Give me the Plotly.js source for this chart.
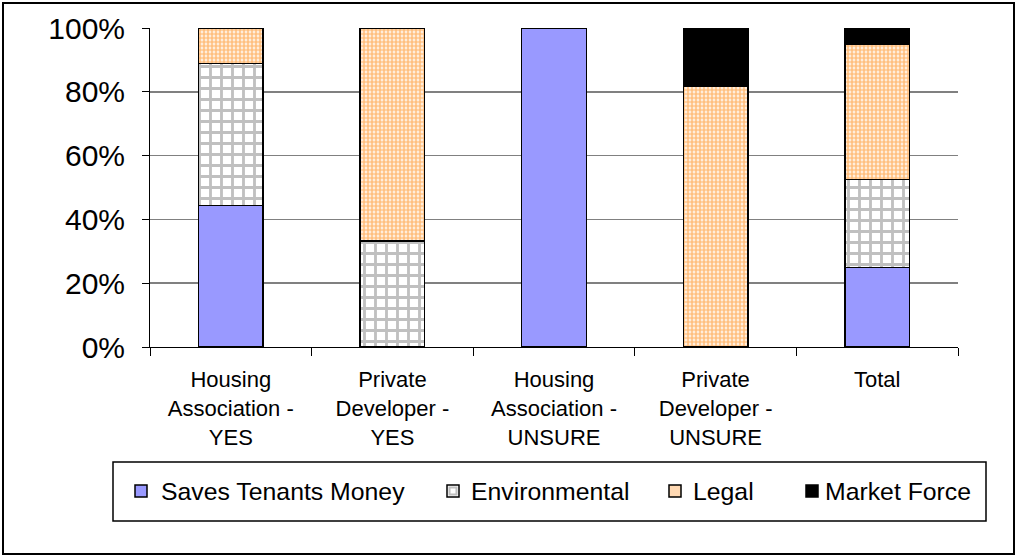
<!DOCTYPE html>
<html>
<head>
<meta charset="utf-8">
<script src="https://cdn.plot.ly/plotly-3.0.1.min.js"></script>
<style>
  html, body { margin: 0; padding: 0; background: #fff; }
  #chart { position: absolute; left: 0; top: 0; width: 1016px; height: 558px; }
  #frame { position: absolute; left: 2px; top: 2px; width: 1009px; height: 549px; border: 2px solid #000; pointer-events: none; }
</style>
</head>
<body>
<div id="chart"></div>
<div id="frame"></div>
<script>
const categories = [
  "Housing Association - YES",
  "Private Developer - YES",
  "Housing Association - UNSURE",
  "Private Developer - UNSURE",
  "Total"
];
const tickLabels = [
  "Housing<br>Association -<br>YES",
  "Private<br>Developer -<br>YES",
  "Housing<br>Association -<br>UNSURE",
  "Private<br>Developer -<br>UNSURE",
  "Total"
];
const seriesNames = ["Saves Tenants Money", "Environmental", "Legal", "Market Force"];
const savesTenantsMoney = [44.4, 0, 100, 0, 25.0];
const environmental     = [44.4, 33.3, 0, 0, 27.5];
const legal             = [11.2, 66.7, 0, 81.8, 42.5];
const marketForce       = [0, 0, 0, 18.2, 5.0];
const yTicks = [0, 20, 40, 60, 80, 100];
const yTickLabels = ["0%", "20%", "40%", "60%", "80%", "100%"];

const outline = { color: '#000', width: 1.5 };
const FONT = '"Liberation Sans", Arial, sans-serif';

const traces = [
  { name: seriesNames[0], y: savesTenantsMoney,
    marker: { color: '#9999FF', line: outline } },
  { name: seriesNames[1], y: environmental,
    marker: { color: '#FFFFFF', line: outline,
      pattern: { shape: '+', fgcolor: '#C0C0C0', bgcolor: '#FFFFFF', size: 11, solidity: 0.45, fillmode: 'replace' } } },
  { name: seriesNames[2], y: legal,
    marker: { color: '#FFFFFF', line: outline,
      pattern: { shape: '.', fgcolor: '#FFC080', bgcolor: '#FFFFFF', size: 4, solidity: 0.7, fillmode: 'replace' } } },
  { name: seriesNames[3], y: marketForce,
    marker: { color: '#000000', line: outline } }
].map(t => Object.assign({ type: 'bar', x: categories, hoverinfo: 'skip', showlegend: false }, t));

// Manual legend (layout only): pixel positions converted to paper coordinates
const PL = 150, PW = 808, PT = 28, PH = 319;
const px = v => (v - PL) / PW;
const py = v => (PT + PH - v) / PH;
const legendSquares = [
  { x: 135, fill: '#9999FF', inner: null },
  { x: 447, fill: '#FFFFFF', inner: '#C0C0C0' },
  { x: 669, fill: '#FFD9B3', inner: null },
  { x: 806, fill: '#000000', inner: null }
];
const legendTextX = [159, 469, 691, 823];
const sq = 12, legendMidY = 491;

const shapes = [
  { type: 'rect', xref: 'paper', yref: 'paper', x0: px(113), x1: px(986), y0: py(521), y1: py(462),
    line: { color: '#000', width: 1.5 }, fillcolor: '#FFFFFF', layer: 'above' }
];
const annotations = [];
legendSquares.forEach((s, i) => {
  shapes.push({ type: 'rect', xref: 'paper', yref: 'paper',
    x0: px(s.x), x1: px(s.x + sq), y0: py(legendMidY + sq / 2), y1: py(legendMidY - sq / 2),
    line: { color: '#000', width: 1.5 }, fillcolor: s.fill, layer: 'above' });
  if (s.inner) {
    shapes.push({ type: 'rect', xref: 'paper', yref: 'paper',
      x0: px(s.x + 2.5), x1: px(s.x + sq - 2.5), y0: py(legendMidY + sq / 2 - 2.5), y1: py(legendMidY - sq / 2 + 2.5),
      line: { color: s.inner, width: 2 }, fillcolor: '#FFFFFF', layer: 'above' });
  }
  annotations.push({ xref: 'paper', yref: 'paper', x: px(legendTextX[i]), y: py(legendMidY),
    xanchor: 'left', yanchor: 'middle', showarrow: false, text: seriesNames[i],
    font: { size: 24.8, family: FONT, color: '#000' } });
});

const layout = {
  width: 1016, height: 558,
  margin: { l: 150, r: 58, t: 28, b: 211 },
  paper_bgcolor: '#FFFFFF', plot_bgcolor: '#FFFFFF',
  font: { family: FONT, color: '#000' },
  barmode: 'stack',
  bargap: 0.6,
  showlegend: false,
  shapes: shapes,
  annotations: annotations,
  xaxis: {
    type: 'category', tickvals: categories, ticktext: tickLabels,
    tickson: 'boundaries', ticks: 'outside', ticklen: 8, tickcolor: '#000', tickwidth: 1,
    showline: true, linecolor: '#000', linewidth: 1,
    tickfont: { size: 22 }, ticklabelstandoff: 13,
    showgrid: false, fixedrange: true
  },
  yaxis: {
    range: [0, 100], tickvals: yTicks, ticktext: yTickLabels,
    ticks: 'outside', ticklen: 7, tickcolor: '#000', tickwidth: 1,
    showline: true, linecolor: '#000', linewidth: 1,
    showgrid: true, gridcolor: '#808080', gridwidth: 1.5,
    zeroline: true, zerolinecolor: '#000', zerolinewidth: 1,
    tickfont: { size: 30 }, ticklabelstandoff: 11, fixedrange: true
  }
};

Plotly.newPlot('chart', traces, layout, { displayModeBar: false, staticPlot: true });
</script>
</body>
</html>
